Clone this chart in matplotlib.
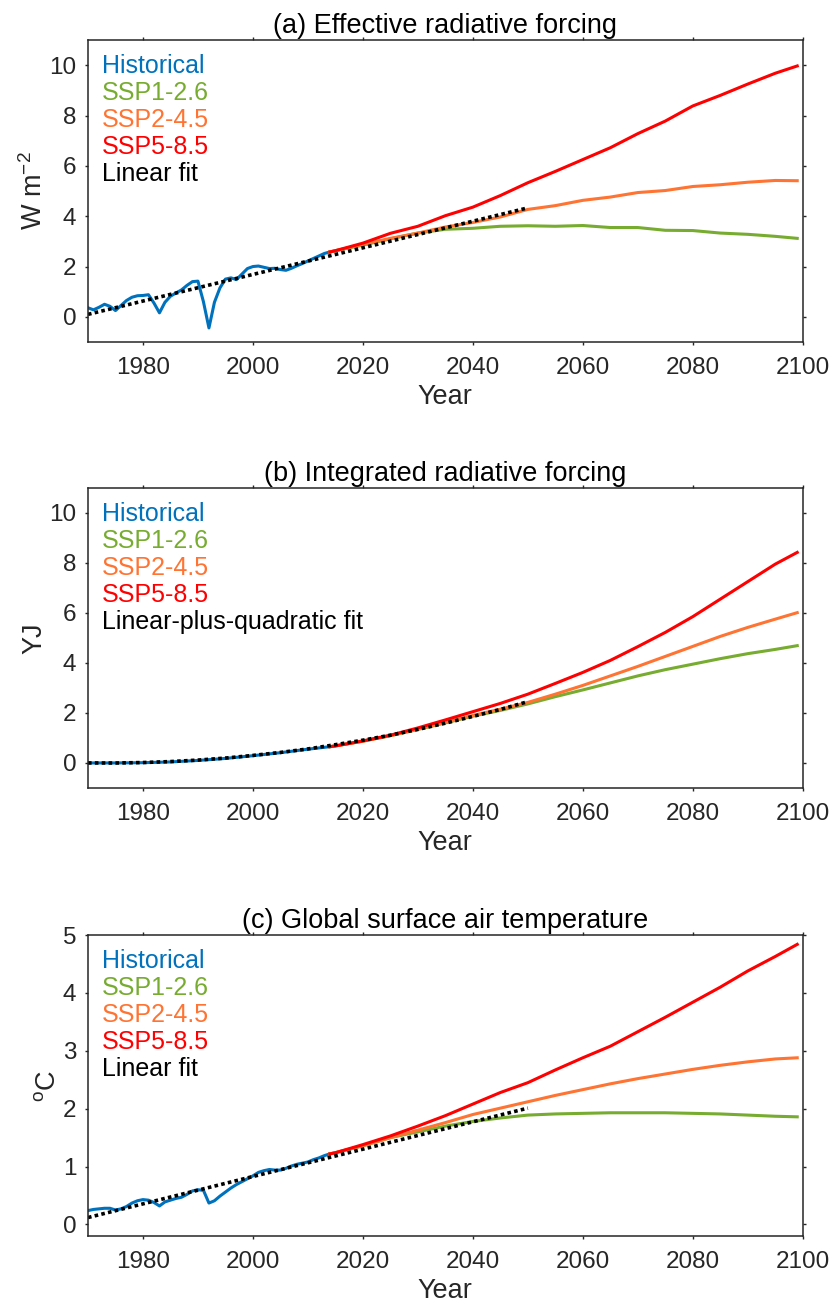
import matplotlib
matplotlib.use('Agg')
import matplotlib.pyplot as plt

plt.rcParams['font.family'] = ['Liberation Sans', 'DejaVu Sans']
plt.rcParams['mathtext.default'] = 'regular'

# historical period (annual means)
hist_years = list(range(1970, 2015))
hist_erf = [0.36, 0.28, 0.38, 0.50, 0.42, 0.25, 0.45, 0.65, 0.78, 0.84,
            0.85, 0.88, 0.55, 0.16, 0.58, 0.82, 0.95, 1.07, 1.25, 1.40,
            1.42, 0.60, -0.44, 0.58, 1.15, 1.50, 1.55, 1.48, 1.70, 1.92,
            2.00, 2.02, 1.97, 1.92, 1.93, 1.88, 1.85, 1.93, 2.03, 2.12,
            2.22, 2.32, 2.42, 2.52, 2.58]
hist_tas = [0.24, 0.26, 0.27, 0.28, 0.28, 0.25, 0.27, 0.31, 0.37, 0.41,
            0.43, 0.42, 0.38, 0.32, 0.39, 0.42, 0.45, 0.47, 0.52, 0.58,
            0.60, 0.59, 0.37, 0.41, 0.49, 0.56, 0.63, 0.69, 0.74, 0.79,
            0.84, 0.90, 0.93, 0.95, 0.94, 0.94, 0.97, 1.01, 1.04, 1.06,
            1.08, 1.12, 1.15, 1.19, 1.22]
hist_int_years = [1970, 1975, 1980, 1985, 1990, 1995, 2000, 2005, 2010, 2014]
hist_int = [0.0, 0.0, 0.01, 0.04, 0.10, 0.18, 0.29, 0.41, 0.55, 0.65]

# scenarios
ssp_years = [2015, 2020, 2025, 2030, 2035, 2040, 2045, 2050, 2055, 2060,
             2065, 2070, 2075, 2080, 2085, 2090, 2095, 2099]
erf_126 = [2.63, 2.85, 3.10, 3.33, 3.48, 3.52, 3.60, 3.62, 3.60, 3.63,
           3.55, 3.55, 3.44, 3.43, 3.33, 3.28, 3.20, 3.12]
erf_245 = [2.63, 2.88, 3.12, 3.33, 3.57, 3.75, 3.97, 4.27, 4.42, 4.63,
           4.76, 4.94, 5.02, 5.18, 5.25, 5.35, 5.42, 5.41]
erf_585 = [2.63, 2.93, 3.32, 3.60, 4.02, 4.36, 4.82, 5.33, 5.78, 6.25,
           6.72, 7.28, 7.78, 8.38, 8.80, 9.25, 9.68, 9.97]
int_126 = [0.68, 0.87, 1.09, 1.34, 1.60, 1.87, 2.10, 2.36, 2.65, 2.92,
           3.20, 3.48, 3.73, 3.95, 4.17, 4.37, 4.54, 4.69]
int_245 = [0.68, 0.87, 1.09, 1.35, 1.62, 1.90, 2.15, 2.42, 2.75, 3.10,
           3.48, 3.86, 4.26, 4.66, 5.06, 5.42, 5.75, 6.01]
int_585 = [0.68, 0.88, 1.11, 1.40, 1.72, 2.05, 2.38, 2.75, 3.18, 3.62,
           4.10, 4.65, 5.22, 5.85, 6.55, 7.25, 7.95, 8.42]
tas_126 = [1.24, 1.36, 1.50, 1.60, 1.70, 1.78, 1.84, 1.89, 1.91, 1.92,
           1.93, 1.93, 1.93, 1.92, 1.91, 1.89, 1.87, 1.86]
tas_245 = [1.24, 1.36, 1.50, 1.63, 1.76, 1.90, 2.01, 2.12, 2.23, 2.33,
           2.43, 2.52, 2.60, 2.68, 2.75, 2.81, 2.86, 2.88]
tas_585 = [1.24, 1.38, 1.53, 1.70, 1.88, 2.08, 2.28, 2.45, 2.67, 2.88,
           3.08, 3.33, 3.58, 3.84, 4.10, 4.38, 4.63, 4.84]

# fits
fit_lin_years = [1970, 2050]
fit_erf = [0.10, 4.33]
fit_tas = [0.12, 2.01]
fit_quad_years = [1970, 1975, 1980, 1985, 1990, 1995, 2000, 2005, 2010,
                  2015, 2020, 2025, 2030, 2035, 2040, 2045, 2050]
fit_int = [0.0, -0.003, 0.016, 0.055, 0.114, 0.195, 0.30, 0.42, 0.56,
           0.73, 0.91, 1.11, 1.34, 1.59, 1.86, 2.14, 2.45]

c_hist = '#0072BD'
c_126 = '#77AC30'
c_245 = '#FF7432'
c_585 = '#FF0000'
c_ax = '#262626'

panels = [
    dict(title='(a) Effective radiative forcing', ylabel='W m$^{-2}$',
         hx=hist_years, hy=hist_erf, s=(erf_126, erf_245, erf_585),
         fx=fit_lin_years, fy=fit_erf, fitlab='Linear fit',
         ylim=(-1, 11), yt=[0, 2, 4, 6, 8, 10],
         pos=[0.1055, 0.7385, 0.857, 0.2309]),
    dict(title='(b) Integrated radiative forcing', ylabel='YJ',
         hx=hist_int_years, hy=hist_int, s=(int_126, int_245, int_585),
         fx=fit_quad_years, fy=fit_int, fitlab='Linear-plus-quadratic fit',
         ylim=(-1, 11), yt=[0, 2, 4, 6, 8, 10],
         pos=[0.1055, 0.3976, 0.857, 0.2294]),
    dict(title='(c) Global surface air temperature', ylabel='$^{o}$C',
         hx=hist_years, hy=hist_tas, s=(tas_126, tas_245, tas_585),
         fx=fit_lin_years, fy=fit_tas, fitlab='Linear fit',
         ylim=(-0.2, 5), yt=[0, 1, 2, 3, 4, 5],
         pos=[0.1055, 0.0550, 0.857, 0.2301]),
]

fig = plt.figure(figsize=(8.34, 13.08), dpi=100)

for p in panels:
    ax = fig.add_axes(p['pos'])
    lw = 2.2
    # scenarios continue from the last historical year
    sx = [p['hx'][-1]] + ssp_years
    ax.plot(p['hx'], p['hy'], color=c_hist, lw=lw, label='Historical')
    ax.plot(sx, [p['hy'][-1]] + p['s'][0], color=c_126, lw=lw, label='SSP1-2.6')
    ax.plot(sx, [p['hy'][-1]] + p['s'][1], color=c_245, lw=lw, label='SSP2-4.5')
    ax.plot(sx, [p['hy'][-1]] + p['s'][2], color=c_585, lw=lw, label='SSP5-8.5')
    ax.plot(p['fx'], p['fy'], color='black', lw=2.6, ls=(0, (1.0, 0.9)),
            label=p['fitlab'])

    ax.set_xlim(1970, 2100)
    ax.set_ylim(*p['ylim'])
    ax.set_xticks(range(1980, 2101, 20))
    ax.set_yticks(p['yt'])
    ax.tick_params(direction='out', length=2.5, width=1.0, colors=c_ax,
                   labelsize=17.5, top=True, right=True, pad=6)
    ax.tick_params(axis='x', pad=8)
    for s in ax.spines.values():
        s.set_color(c_ax)
        s.set_linewidth(1.1)

    ax.set_title(p['title'], fontsize=19.5, color='black', pad=5)
    ax.set_xlabel('Year', fontsize=19.5, color=c_ax, labelpad=4)
    ax.set_ylabel(p['ylabel'], fontsize=19.5, color=c_ax, labelpad=1)

    leg = ax.legend(loc='upper left', frameon=False, handlelength=0,
                    handletextpad=0, labelspacing=0.12, fontsize=18,
                    borderaxespad=0.25, borderpad=0.3)
    for h in leg.legend_handles:
        h.set_visible(False)
    for t, col in zip(leg.get_texts(), [c_hist, c_126, c_245, c_585, 'black']):
        t.set_color(col)

fig.savefig('out.png', dpi=100)
